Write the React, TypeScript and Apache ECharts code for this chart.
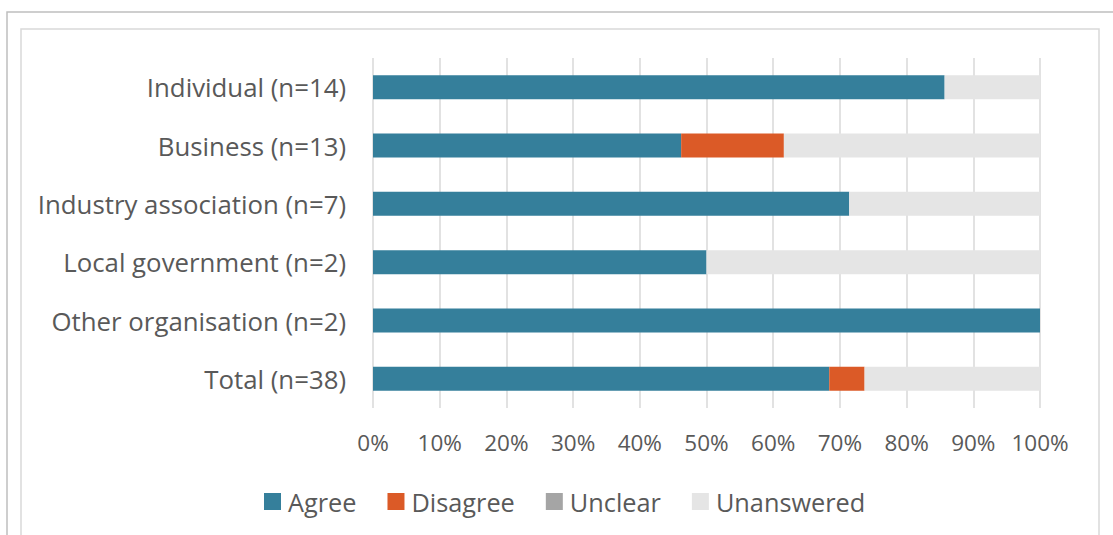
import React, { useEffect, useRef } from "react";
import * as echarts from "echarts";

// Response groups, listed top to bottom
const categories = [
  "Individual (n=14)",
  "Business (n=13)",
  "Industry association (n=7)",
  "Local government (n=2)",
  "Other organisation (n=2)",
  "Total (n=38)",
];

// Share of responses per group (%)
const agree = [85.7, 46.2, 71.4, 50.0, 100.0, 68.4];
const disagree = [0, 15.4, 0, 0, 0, 5.3];
const unclear = [0, 0, 0, 0, 0, 0];
const unanswered = [14.3, 38.5, 28.6, 50.0, 0, 26.3];

const seriesNames = ["Agree", "Disagree", "Unclear", "Unanswered"];
const seriesColors = ["#357f9b", "#db5a27", "#a5a5a5", "#e5e5e5"];
const seriesValues = [agree, disagree, unclear, unanswered];

const FONT = "'Open Sans', sans-serif";
const TEXT = "#595959";

export default function App() {
  const ref = useRef<HTMLDivElement>(null);

  useEffect(() => {
    if (!ref.current) return;
    const chart = echarts.init(ref.current, null, { renderer: "svg" });
    chart.setOption({
      animation: false,
      backgroundColor: "#ffffff",
      textStyle: { fontFamily: FONT, color: TEXT },
      graphic: [
        {
          type: "rect",
          shape: { x: 7, y: 12, width: 1130, height: 540 },
          style: { fill: "none", stroke: "#bfbfbf", lineWidth: 1.5 },
          silent: true,
          z: -10,
        },
        {
          type: "rect",
          shape: { x: 21, y: 29, width: 1078, height: 520 },
          style: { fill: "none", stroke: "#d9d9d9", lineWidth: 1.5 },
          silent: true,
          z: -10,
        },
      ],
      legend: {
        data: seriesNames,
        left: 264,
        top: 489,
        padding: 0,
        itemWidth: 17,
        itemHeight: 17,
        itemGap: 31,
        icon: "rect",
        textStyle: {
          fontFamily: FONT,
          fontSize: 25.3,
          color: TEXT,
          padding: [0, 0, 0, 2],
        },
      },
      grid: { left: 373, right: 73, top: 58, bottom: 127, containLabel: false },
      xAxis: {
        type: "value",
        min: 0,
        max: 100,
        interval: 10,
        axisLine: { show: false },
        axisTick: { show: false },
        axisLabel: {
          formatter: "{value}%",
          fontFamily: FONT,
          fontSize: 22.5,
          color: TEXT,
          margin: 23,
        },
        splitLine: { show: true, lineStyle: { color: "#d9d9d9", width: 1.5 } },
      },
      yAxis: {
        type: "category",
        data: categories,
        inverse: true,
        axisLine: { show: false },
        axisTick: { show: false },
        axisLabel: {
          fontFamily: FONT,
          fontSize: 25.8,
          color: TEXT,
          margin: 27,
        },
      },
      series: seriesNames.map((name, i) => ({
        name,
        type: "bar",
        stack: "total",
        barWidth: 24,
        data: seriesValues[i],
        itemStyle: { color: seriesColors[i] },
      })),
    });
    return () => chart.dispose();
  }, []);

  return (
    <div
      ref={ref}
      style={{ position: "fixed", left: 0, top: 0, width: 1113, height: 535 }}
    />
  );
}
